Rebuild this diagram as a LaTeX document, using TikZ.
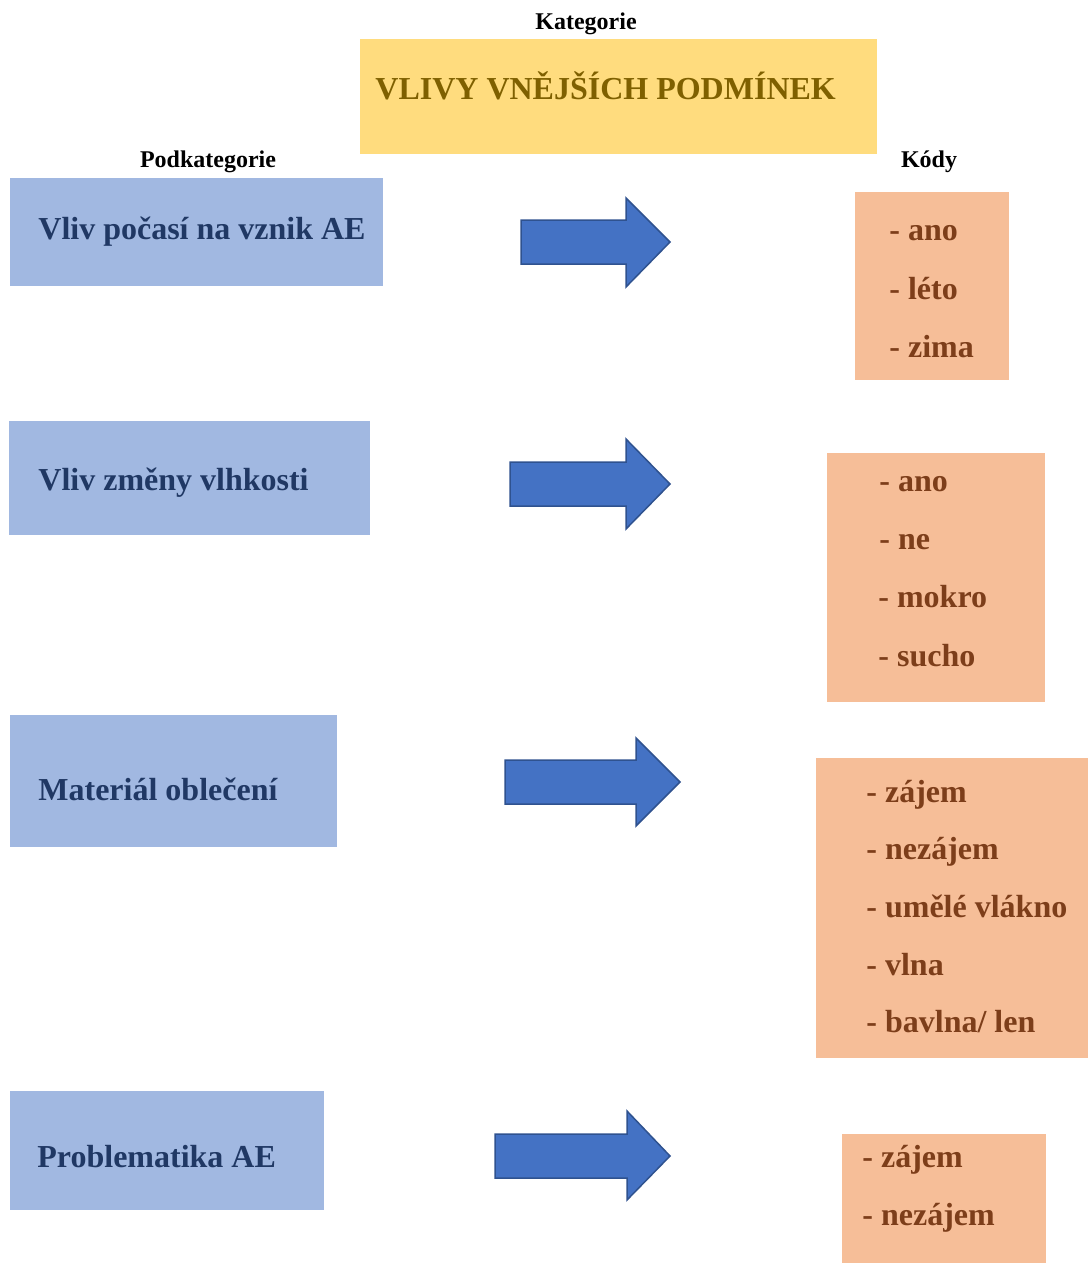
\documentclass[tikz,border=0pt]{standalone}
\usepackage{fontspec}
\setmainfont{Liberation Serif}
\definecolor{ybox}{HTML}{FFDC7E}
\definecolor{ytext}{HTML}{7F6000}
\definecolor{bbox}{HTML}{A1B8E1}
\definecolor{btext}{HTML}{203864}
\definecolor{afill}{HTML}{4472C4}
\definecolor{aline}{HTML}{2F528F}
\definecolor{obox}{HTML}{F6BE98}
\definecolor{otext}{HTML}{7D3E1A}
\begin{document}
\begin{tikzpicture}[x=0.5pt,y=-0.5pt,
  boxbase/.style={inner sep=0pt, outer sep=0pt, anchor=north west, draw=none},
  catbox/.style={boxbase, fill=ybox},
  subbox/.style={boxbase, fill=bbox},
  codebox/.style={boxbase, fill=obox},
  hdr/.style={inner sep=0pt, anchor=base, font=\fontsize{12pt}{14pt}\selectfont\bfseries},
  cattext/.style={inner sep=0pt, anchor=base west, text=ytext, font=\fontsize{16pt}{19pt}\selectfont\bfseries},
  subtext/.style={inner sep=0pt, anchor=base west, text=btext, font=\fontsize{16pt}{19pt}\selectfont\bfseries},
  codetext/.style={inner sep=0pt, anchor=base west, text=otext, font=\fontsize{16pt}{19pt}\selectfont\bfseries},
  blockarrow/.style={fill=afill, draw=aline, line width=0.75pt, line join=miter}
]
\useasboundingbox (0,0) rectangle (1088,1263);

% headers
\node[hdr] (hcat) at (586,30) {Kategorie};
\node[hdr] (hsub) at (208,168) {Podkategorie};
\node[hdr] (hcode) at (929,168) {Kódy};

% category
\node[catbox, minimum width=258.5pt, minimum height=57.5pt] (cat) at (360,39) {};
\node[cattext] (cattxt) at (375,100) {VLIVY VNĚJŠÍCH PODMÍNEK};

% subcategories
\node[subbox, minimum width=186.5pt, minimum height=54pt] (sub1) at (10,178) {};
\node[subtext] (subt1) at (38,239) {Vliv počasí na vznik AE};
\node[subbox, minimum width=180.5pt, minimum height=57pt] (sub2) at (9,421) {};
\node[subtext] (subt2) at (38,490) {Vliv změny vlhkosti};
\node[subbox, minimum width=163.5pt, minimum height=66pt] (sub3) at (10,715) {};
\node[subtext] (subt3) at (38,800) {Materiál oblečení};
\node[subbox, minimum width=157pt, minimum height=59.5pt] (sub4) at (10,1091) {};
\node[subtext] (subt4) at (37,1167) {Problematika AE};

% arrows
\draw[blockarrow] (521,220) -- (626,220) -- (626,198) -- (670,242) -- (626,287) -- (626,264) -- (521,264) -- cycle;
\draw[blockarrow] (510,462) -- (626,462) -- (626,439) -- (670,484) -- (626,529) -- (626,506) -- (510,506) -- cycle;
\draw[blockarrow] (505,760) -- (636,760) -- (636,738) -- (680,782) -- (636,826) -- (636,804) -- (505,804) -- cycle;
\draw[blockarrow] (495,1134) -- (627,1134) -- (627,1111) -- (670,1156) -- (627,1200) -- (627,1178) -- (495,1178) -- cycle;

% codes
\node[codebox, minimum width=77pt, minimum height=94pt] (code1) at (855,192) {};
\node[codetext] (c11) at (889,240) {- ano};
\node[codetext] (c12) at (889,299) {- léto};
\node[codetext] (c13) at (889,357) {- zima};

\node[codebox, minimum width=109pt, minimum height=124.5pt] (code2) at (827,453) {};
\node[codetext] (c21) at (879,491) {- ano};
\node[codetext] (c22) at (879,549) {- ne};
\node[codetext] (c23) at (878,607) {- mokro};
\node[codetext] (c24) at (878,666) {- sucho};

\node[codebox, minimum width=136pt, minimum height=150pt] (code3) at (816,758) {};
\node[codetext] (c31) at (866,802) {- zájem};
\node[codetext] (c32) at (866,859) {- nezájem};
\node[codetext] (c33) at (866,917) {- umělé vlákno};
\node[codetext] (c34) at (866,975) {- vlna};
\node[codetext] (c35) at (866,1032) {- bavlna/ len};

\node[codebox, minimum width=102pt, minimum height=64.5pt] (code4) at (842,1134) {};
\node[codetext] (c41) at (862,1167) {- zájem};
\node[codetext] (c42) at (862,1225) {- nezájem};
\end{tikzpicture}
\end{document}
